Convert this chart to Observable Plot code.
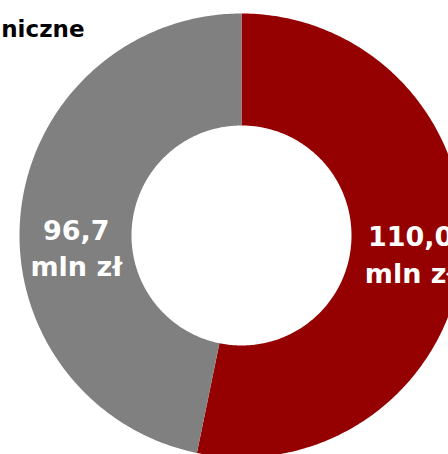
<!DOCTYPE html>
<html>
<head>
<meta charset="utf-8">
<script src="https://cdn.jsdelivr.net/npm/d3@7"></script>
<script src="https://cdn.jsdelivr.net/npm/@observablehq/plot@0.6"></script>
<style>
  html, body { margin: 0; padding: 0; background: #fff; }
  #chart { width: 448px; height: 454px; overflow: hidden; }
  svg { font-family: "DejaVu Sans", Verdana, sans-serif; }
</style>
</head>
<body>
<div id="chart"></div>
<script>
// ---- data ----
const titleText = "niczne";
const categories = ["A", "B"];
const values = [110.0, 96.7];
const valueLabels = ["110,0", "96,7"];
const unitLabel = "mln zł";
const colors = ["#950000", "#808080"];

// ---- geometry helpers (unit radius) ----
const outerR = 1;
const innerR = 110 / 222;
const pie = d3.pie().sort(null).value(d => d.value);
const slices = pie(categories.map((c, i) => ({cat: c, value: values[i], label: valueLabels[i] + "\n" + unitLabel})));

const poly = [];
slices.forEach(s => {
  const n = 240;
  for (let k = 0; k <= n; k++) {
    const a = s.startAngle + (s.endAngle - s.startAngle) * k / n;
    poly.push({cat: s.data.cat, x: outerR * Math.sin(a), y: -outerR * Math.cos(a)});
  }
  for (let k = n; k >= 0; k--) {
    const a = s.startAngle + (s.endAngle - s.startAngle) * k / n;
    poly.push({cat: s.data.cat, x: innerR * Math.sin(a), y: -innerR * Math.cos(a)});
  }
});

const midR = (outerR + innerR) / 2;
const labelData = slices.map(s => {
  const a = (s.startAngle + s.endAngle) / 2;
  return {cat: s.data.cat, label: s.data.label, x: midR * Math.sin(a), y: -midR * Math.cos(a)};
});

const W = 448, H = 454;
const cx = 241, cy = 235, R = 222;

const chart = Plot.plot({
  width: W,
  height: H,
  margin: 0,
  x: {domain: [-cx / R, (W - cx) / R], range: [0, W], axis: null},
  y: {domain: [-cy / R, (H - cy) / R], range: [0, H], axis: null},
  color: {domain: categories, range: colors},
  marks: [
    Plot.line(poly, {x: "x", y: "y", z: "cat", fill: "cat", stroke: null, curve: "linear"}),
    Plot.text(labelData.filter(d => d.cat === categories[0]), {
      x: "x", y: "y", text: "label", fill: "white", fontSize: 27, fontWeight: "bold",
      lineHeight: 1.38, textAnchor: "middle", lineAnchor: "middle", dx: 4, dy: 0
    }),
    Plot.text(labelData.filter(d => d.cat === categories[1]), {
      x: "x", y: "y", text: "label", fill: "white", fontSize: 27, fontWeight: "bold",
      lineHeight: 1.34, textAnchor: "middle", lineAnchor: "middle", dx: 0, dy: 28
    }),
    Plot.text([titleText], {
      text: d => d, frameAnchor: "top-left", textAnchor: "end", lineAnchor: "top",
      dx: 84, dy: 20, fontSize: 23, fontWeight: "bold", fill: "black"
    })
  ]
});
document.getElementById("chart").appendChild(chart);
</script>
</body>
</html>
